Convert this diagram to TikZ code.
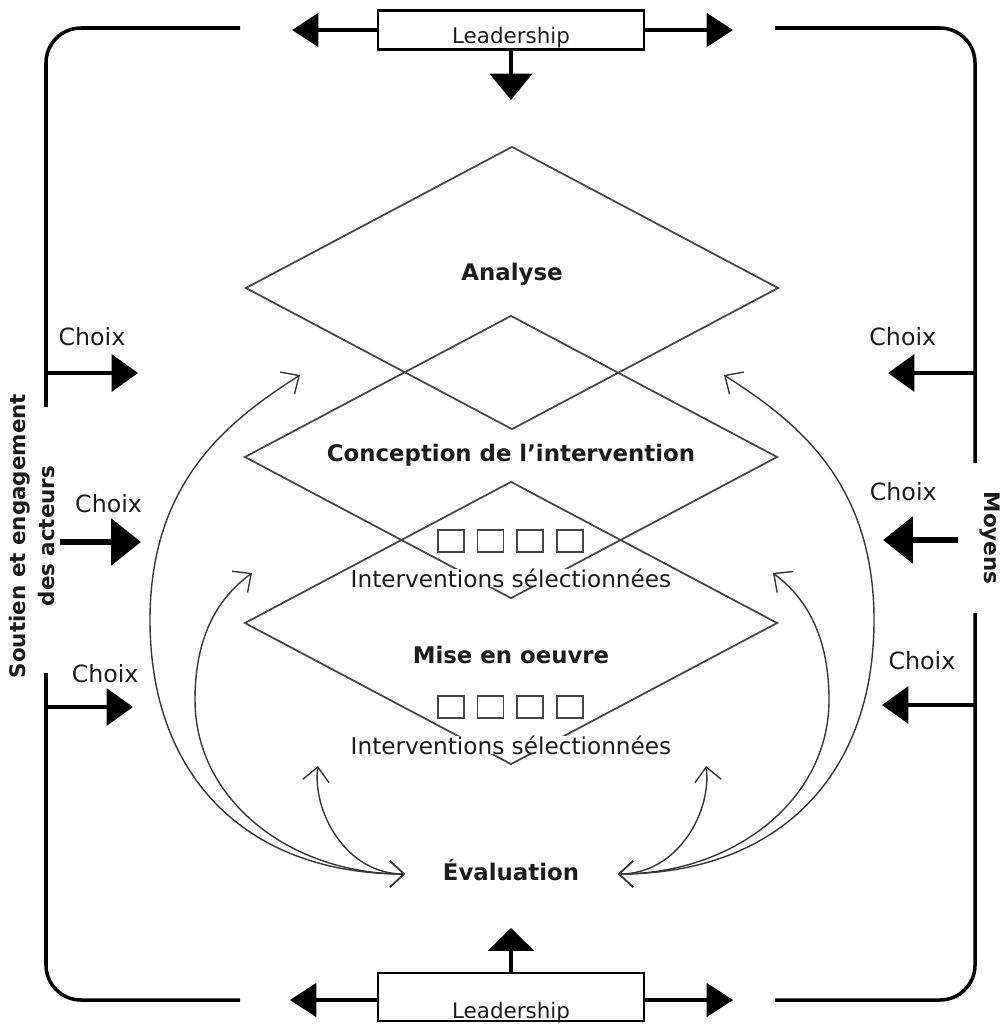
\documentclass[tikz,border=0pt]{standalone}
\usepackage{fontspec}
\setmainfont{DejaVu Sans}
\usetikzlibrary{
  arrows.meta,
  positioning,
  calc,
  shapes.geometric
}
\definecolor{InkBlack}{RGB}{28,28,28}
\definecolor{StageGray}{RGB}{70,70,70}
\definecolor{LoopGray}{RGB}{55,55,55}
\tikzset{
  stage/.style={diamond,draw=StageGray,line width=1pt,minimum width=10.66cm,minimum height=5.66cm,inner sep=0pt},
  stagename/.style={font=\fontsize{13}{15}\selectfont\bfseries,text=InkBlack},
  selected/.style={font=\fontsize{13.2}{15}\selectfont,text=InkBlack,fill=white,inner sep=0pt},
  slot/.style={draw=StageGray,fill=white,line width=0.9pt,minimum width=5.2mm,minimum height=4.4mm,inner sep=0pt},
  leadbox/.style={draw=black,line width=1.5pt,minimum width=5.32cm,inner xsep=0pt,inner ysep=0pt,font=\fontsize{12.2}{14}\selectfont,text=InkBlack},
  framepath/.style={line width=2pt,rounded corners=7mm},
  leadarrow/.style={-{Triangle[length=15pt,width=19pt]},line width=2pt},
  choice/.style={-{Triangle[length=15pt,width=21pt]},line width=2pt},
  choicebold/.style={-{Triangle[length=17pt,width=26pt]},line width=3.6pt},
  choicelabel/.style={font=\fontsize{13.5}{16}\selectfont,text=InkBlack},
  feedback/.style={{Straight Barb[length=8pt,width=15pt]}-{Straight Barb[length=8pt,width=15pt]},line width=0.8pt,draw=LoopGray},
  sidetitle/.style={font=\fontsize{12.2}{17}\selectfont\bfseries,text=InkBlack,align=center}
}

\begin{document}
\begin{tikzpicture}[x=0.02cm,y=-0.02cm]
\useasboundingbox (0,0) rectangle (1007,1027);

% the three stages
\node[stage] (ana) at (512,288) {};
\node[stage] (con) at (511,457) {};
\node[stage] (mise) at (511,623) {};
\node[stagename] (anat) at (512,274) {Analyse};
\node[stagename] (cont) at (511,455) {Conception de l'intervention};
\node[stagename] (miset) at (511,655) {Mise en oeuvre};
\node[stagename] (eval) at (511,870) {Évaluation};

% selected interventions
\node[slot] (a1) at (451,541) {};
\node[slot,right=2.4mm of a1] (a2) {};
\node[slot,right=2.4mm of a2] (a3) {};
\node[slot,right=2.4mm of a3] (a4) {};
\node[selected] (sel1) at (511,578) {Interventions sélectionnées};
\node[slot] (b1) at (451,707) {};
\node[slot,right=2.4mm of b1] (b2) {};
\node[slot,right=2.4mm of b2] (b3) {};
\node[slot,right=2.4mm of b3] (b4) {};
\node[selected] (sel2) at (511,745) {Interventions sélectionnées};

% leadership, top and bottom
\node[leadbox,text height=6.6mm,text depth=1.2mm] (ltop) at (511,30) {Leadership};
\node[leadbox,text height=9mm,text depth=0.6mm] (lbot) at (511,997) {Leadership};
\coordinate (ltopL) at (292,30);
\coordinate (ltopR) at (733,30);
\coordinate (ltopD) at (511,100);
\coordinate (lbotL) at (290,1000);
\coordinate (lbotR) at (733,1000);
\coordinate (lbotU) at (511,928);
\draw[leadarrow] (ltop.west) -- (ltopL);
\draw[leadarrow] (ltop.east) -- (ltopR);
\draw[leadarrow,-{Triangle[length=15pt,width=24pt]}] (ltop.south) -- (ltopD);
\draw[leadarrow] (lbot.west |- lbotL) -- (lbotL);
\draw[leadarrow] (lbot.east |- lbotR) -- (lbotR);
\draw[leadarrow,-{Triangle[length=13pt,width=26pt]}] (lbot.north) -- (lbotU);

% outer frame
\draw[framepath] (240,28) -- (46,28) -- (46,407);
\draw[framepath] (46,673) -- (46,1000) -- (240,1000);
\draw[framepath] (775,28) -- (975,28) -- (975,463);
\draw[framepath] (975,613) -- (975,1000) -- (775,1000);

\node[sidetitle,rotate=90] (actors) at (32,536) {Soutien et engagement\\des acteurs};
\node[sidetitle,rotate=-90] (means) at (990,538) {Moyens};

% choices
\coordinate (cl1) at (46,373);  \coordinate (cl1e) at (138,373);
\coordinate (cl2) at (60,542);  \coordinate (cl2e) at (141,542);
\coordinate (cl3) at (46,707);  \coordinate (cl3e) at (133,707);
\coordinate (cr1) at (975,373); \coordinate (cr1e) at (888,373);
\coordinate (cr2) at (958,540); \coordinate (cr2e) at (883,540);
\coordinate (cr3) at (975,705); \coordinate (cr3e) at (882,705);
\draw[choice] (cl1) -- node[choicelabel,pos=0.5,above=4mm]{Choix} (cl1e);
\draw[choicebold] (cl2) -- node[choicelabel,pos=0.6,above=4mm]{Choix} (cl2e);
\draw[choice] (cl3) -- node[choicelabel,pos=0.68,above=3.4mm]{Choix} (cl3e);
\draw[choice] (cr1) -- node[choicelabel,pos=0.83,above=4mm]{Choix} (cr1e);
\draw[choicebold] (cr2) -- node[choicelabel,pos=0.73,above=6mm]{Choix} (cr2e);
\draw[choice] (cr3) -- node[choicelabel,pos=0.57,above=5.6mm]{Choix} (cr3e);

% feedback loops from evaluation
\coordinate (evl) at (405,874);
\coordinate (evr) at (618,874);
\coordinate (tl1) at (300,375);
\coordinate (tl2) at (252,573);
\coordinate (tl3) at (318,766);
\coordinate (tr1) at (724,375);
\coordinate (tr2) at (773,573);
\coordinate (tr3) at (706,766);
\draw[feedback] (tl1) .. controls (230,420) and (150,480) .. (150,620) .. controls (150,780) and (250,874) .. (evl);
\draw[feedback] (tl2) .. controls (215,600) and (195,640) .. (195,700) .. controls (195,800) and (290,874) .. (evl);
\draw[feedback] (tl3) .. controls (312,810) and (345,874) .. (evl);
\draw[feedback] (tr1) .. controls (794,420) and (874,480) .. (874,620) .. controls (874,780) and (774,874) .. (evr);
\draw[feedback] (tr2) .. controls (809,600) and (829,640) .. (829,700) .. controls (829,800) and (734,874) .. (evr);
\draw[feedback] (tr3) .. controls (712,810) and (679,874) .. (evr);
\end{tikzpicture}
\end{document}
